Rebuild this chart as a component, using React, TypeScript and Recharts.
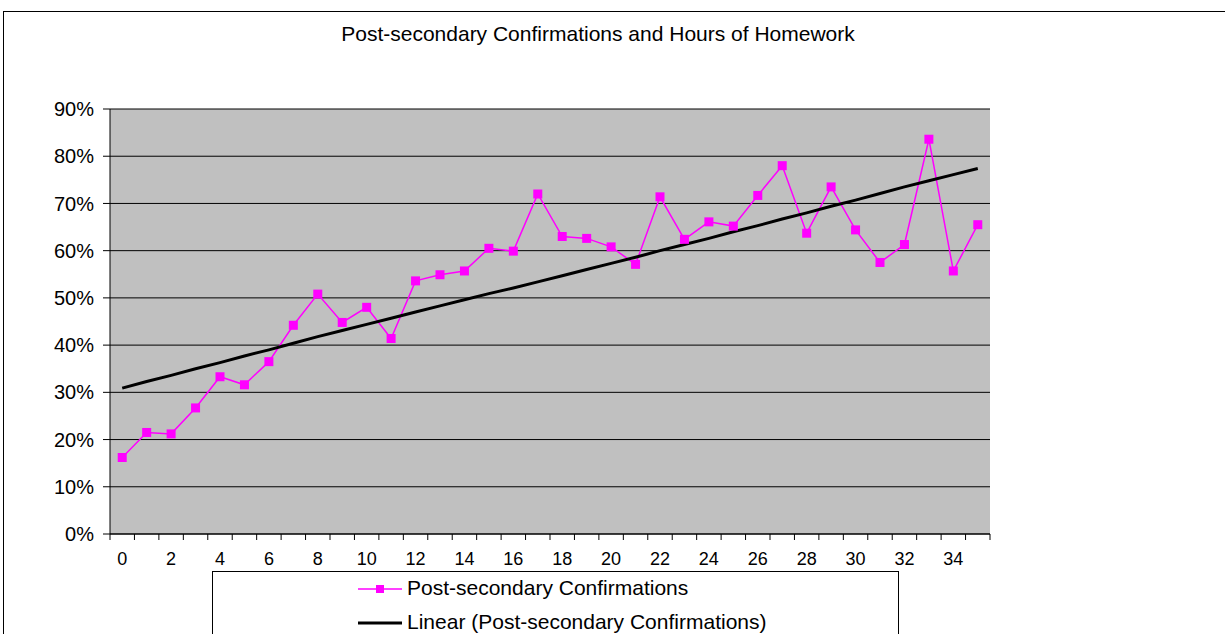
import React from "react";
import {
  LineChart,
  Line,
  XAxis,
  YAxis,
  CartesianGrid,
} from "recharts";

// hours of homework (x categories)
const hours = Array.from({ length: 36 }, (_, i) => i);

// share with post-secondary confirmations, in %
const confirmations = [
  16.2, 21.5, 21.2, 26.7, 33.3, 31.6, 36.5, 44.2, 50.8, 44.8,
  48.0, 41.4, 53.6, 54.9, 55.7, 60.5, 59.9, 72.0, 63.0, 62.6,
  60.8, 57.1, 71.4, 62.4, 66.1, 65.2, 71.7, 78.0, 63.7, 73.5,
  64.4, 57.5, 61.3, 83.6, 55.7, 65.5,
];

// linear trend line as drawn in the picture, in %
const trend = [
  30.9, 32.3, 33.6, 35.0, 36.3, 37.7, 39.0, 40.4, 41.8, 43.1,
  44.4, 45.7, 47.0, 48.3, 49.6, 50.9, 52.1, 53.4, 54.7, 56.0,
  57.3, 58.6, 60.0, 61.3, 62.6, 64.0, 65.3, 66.7, 68.0, 69.4,
  70.7, 72.1, 73.5, 74.8, 76.1, 77.4,
];

const yTicks = [0, 10, 20, 30, 40, 50, 60, 70, 80, 90];

const FONT = '"Liberation Sans", Arial, sans-serif';
const MAGENTA = "#ff00ff";

const data = hours.map((h, i) => ({
  hour: h,
  conf: confirmations[i],
  trend: trend[i],
}));

const SquareDot = (props: any) => {
  const { cx, cy, index } = props;
  if (cx == null || cy == null) return <g key={index} />;
  return (
    <rect
      key={index}
      x={cx - 4.5}
      y={cy - 4.5}
      width={9}
      height={9}
      fill={MAGENTA}
    />
  );
};

const XTick = (props: any) => {
  const { x, y, payload, index } = props;
  const half = payload?.offset || 880 / 72;
  const i = payload?.index ?? index;
  const last = i === hours.length - 1;
  return (
    <g>
      <line x1={x - half} x2={x - half} y1={y} y2={y + 6} stroke="#000" />
      {last && <line x1={x + half} x2={x + half} y1={y} y2={y + 6} stroke="#000" />}
      {i % 2 === 0 && (
        <text x={x} y={y + 31} textAnchor="middle" fontSize={18} fill="#000" fontFamily={FONT}>
          {payload.value}
        </text>
      )}
    </g>
  );
};

export default function App() {
  return (
    <div
      style={{
        position: "absolute",
        left: 0,
        top: 0,
        width: 1225,
        height: 634,
        overflow: "hidden",
        background: "#fff",
        fontFamily: FONT,
      }}
    >
      <div
        style={{
          position: "absolute",
          left: 3,
          top: 11,
          width: 1300,
          height: 700,
          border: "1px solid #000",
        }}
      />
      <div
        style={{
          position: "absolute",
          left: 0,
          width: 1196,
          top: 22,
          textAlign: "center",
          fontSize: 21,
          color: "#000",
        }}
      >
        Post-secondary Confirmations and Hours of Homework
      </div>

      <div style={{ position: "absolute", left: 0, top: 0 }}>
        <LineChart
          width={1225}
          height={634}
          data={data}
          margin={{ top: 109, right: 235, bottom: 70, left: 10 }}
        >
          <CartesianGrid vertical={false} stroke="#000" fill="#c0c0c0" fillOpacity={1} />
          <XAxis
            dataKey="hour"
            scale="band"
            height={30}
            interval={0}
            tickSize={0}
            tickMargin={0}
            tickLine={false}
            axisLine={{ stroke: "#000" }}
            tick={<XTick />}
          />
          <XAxis
            xAxisId="top"
            dataKey="hour"
            scale="band"
            orientation="top"
            height={0}
            tick={false}
            tickLine={false}
            axisLine={{ stroke: "#808080" }}
          />
          <YAxis
            domain={[0, 90]}
            ticks={yTicks}
            width={100}
            interval={0}
            tickSize={7}
            tickMargin={9}
            tickFormatter={(v) => `${v}%`}
            tick={{ fontSize: 20, fill: "#000", fontFamily: FONT }}
            tickLine={{ stroke: "#000" }}
            axisLine={{ stroke: "#000" }}
          />
          <YAxis
            yAxisId="right"
            orientation="right"
            domain={[0, 90]}
            width={0}
            tick={false}
            tickLine={false}
            axisLine={{ stroke: "#808080" }}
          />
          <Line
            dataKey="conf"
            stroke={MAGENTA}
            strokeWidth={1.5}
            dot={SquareDot}
            activeDot={false}
            isAnimationActive={false}
          />
          <Line
            dataKey="trend"
            stroke="#000"
            strokeWidth={3}
            dot={false}
            activeDot={false}
            isAnimationActive={false}
          />
        </LineChart>
      </div>

      <div
        style={{
          position: "absolute",
          left: 212,
          top: 571,
          width: 685,
          height: 100,
          border: "1px solid #000",
          background: "#fff",
          fontSize: 21,
          color: "#000",
        }}
      >
        <svg style={{ position: "absolute", left: 0, top: 0 }} width={685} height={100}>
          <line x1={145} x2={189} y1={17} y2={17} stroke={MAGENTA} strokeWidth={1.5} />
          <rect x={163} y={13} width={8} height={8} fill={MAGENTA} />
          <line x1={145} x2={189} y1={51} y2={51} stroke="#000" strokeWidth={3} />
        </svg>
        <div style={{ position: "absolute", left: 194, top: 4, whiteSpace: "nowrap" }}>
          Post-secondary Confirmations
        </div>
        <div style={{ position: "absolute", left: 194, top: 38, whiteSpace: "nowrap" }}>
          Linear (Post-secondary Confirmations)
        </div>
      </div>
    </div>
  );
}
